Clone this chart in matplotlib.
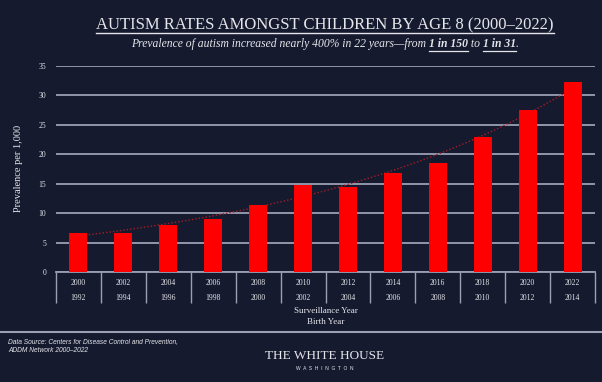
import numpy as np
import matplotlib
matplotlib.use("Agg")
import matplotlib.pyplot as plt
import matplotlib.transforms as mtransforms
from matplotlib.lines import Line2D

# Data
surveillance_years = ["2000", "2002", "2004", "2006", "2008", "2010",
                      "2012", "2014", "2016", "2018", "2020", "2022"]
birth_years = ["1992", "1994", "1996", "1998", "2000", "2002",
               "2004", "2006", "2008", "2010", "2012", "2014"]
prevalence = [6.7, 6.6, 8.0, 9.0, 11.3, 14.7, 14.5, 16.8, 18.5, 23.0, 27.6, 32.2]
y_ticks = [0, 5, 10, 15, 20, 25, 30, 35]

BG = "#151a2f"
GRID = "#9a9fb3"
TXT = "#e6e6ea"
RED = "#ff0000"

plt.rcParams["font.family"] = ["Liberation Serif", "DejaVu Serif"]

fig = plt.figure(figsize=(6.02, 3.82), dpi=100)
fig.patch.set_facecolor(BG)
W, H = 602, 382
CX = 325  # horizontal centre of the header / footer

ax = fig.add_axes([56 / W, 110 / H, 539 / W, 206 / H])
ax.set_facecolor(BG)

x = np.arange(len(prevalence))
ax.bar(x, prevalence, width=0.4, color=RED, zorder=3)

# exponential trend line fitted to the values
coef = np.polyfit(x, np.log(prevalence), 1)
xt = np.linspace(x[0], x[-1], 100)
ax.plot(xt, np.exp(np.polyval(coef, xt)), color="#a61c24", lw=1.0,
        ls=(0, (1, 1.5)), zorder=2)

ax.set_xlim(-0.5, len(x) - 0.5)
ax.set_ylim(0, 35)
ax.set_yticks(y_ticks)
ax.set_xticks([])
ax.tick_params(axis="y", length=0, pad=7, labelsize=5.5, labelcolor=TXT)
ax.yaxis.grid(True, color=GRID, lw=1.3)
ax.set_axisbelow(True)
for s in ["left", "right", "top"]:
    ax.spines[s].set_visible(False)
ax.spines["bottom"].set_color(GRID)
ax.spines["bottom"].set_linewidth(1.3)

# table-like x axis
trans = mtransforms.blended_transform_factory(ax.transData, ax.transAxes)
ax.vlines(np.arange(-0.5, len(x)), -0.15, 0, transform=trans, color=GRID,
          lw=1.0, clip_on=False)
for i in x:
    ax.text(i, -0.053, surveillance_years[i], transform=trans, ha="center",
            va="center", fontsize=5.5, color=TXT)
    ax.text(i, -0.126, birth_years[i], transform=trans, ha="center",
            va="center", fontsize=5.5, color=TXT)
ax.text(0.5, -0.189, "Surveillance Year", transform=ax.transAxes,
        ha="center", va="center", fontsize=6.5, color=TXT)
ax.text(0.5, -0.243, "Birth Year", transform=ax.transAxes,
        ha="center", va="center", fontsize=6.5, color=TXT)

fig.text(19 / W, 1 - 168 / H, "Prevalence per 1,000", rotation=90,
         ha="center", va="center", fontsize=7.5, color=TXT)

# title with underline
title = fig.text(CX / W, 1 - 29 / H, "AUTISM RATES AMONGST CHILDREN BY AGE 8 (2000\u20132022)",
                 ha="center", va="baseline", fontsize=12, color=TXT)

# subtitle in pieces
pieces = [("Prevalence of autism increased nearly 400% in 22 years\u2014from ", False),
          ("1 in 150", True), (" to ", False), ("1 in 31", True), (".", False)]
sub_texts = []
for s, bold in pieces:
    t = fig.text(0, 1 - 47 / H, s, ha="left", va="baseline", fontsize=8.4,
                 style="italic", weight="bold" if bold else "normal", color=TXT)
    sub_texts.append((t, bold))

fig.canvas.draw()
r = fig.canvas.get_renderer()
bb = title.get_window_extent(r)
fig.add_artist(Line2D([bb.x0 / W, bb.x1 / W], [1 - 33 / H] * 2, color=TXT, lw=1.0))

widths = [t.get_window_extent(r).width for t, _ in sub_texts]
xpos = CX - sum(widths) / 2
for (t, bold), w in zip(sub_texts, widths):
    t.set_x(xpos / W)
    if bold:
        fig.add_artist(Line2D([xpos / W, (xpos + w) / W], [1 - 51 / H] * 2,
                              color=TXT, lw=0.9))
    xpos += w

# footer
fig.add_artist(Line2D([0, 1], [1 - 332 / H] * 2, color=GRID, lw=1.5))
fig.text(8 / W, 1 - 346 / H, "Data Source: Centers for Disease Control and Prevention,\nADDM Network 2000\u20132022",
         ha="left", va="center", fontsize=4.8, style="italic", color=TXT,
         family=["Liberation Sans", "DejaVu Sans"], linespacing=1.3)
fig.text(CX / W, 1 - 356 / H, "THE WHITE HOUSE", ha="center", va="center",
         fontsize=9.5, color=TXT)
fig.text(CX / W, 1 - 369 / H, "W  A  S  H  I  N  G  T  O  N", ha="center",
         va="center", fontsize=3.5, color=TXT, family=["Liberation Sans", "DejaVu Sans"])

fig.savefig("out.png", dpi=100, facecolor=BG)
